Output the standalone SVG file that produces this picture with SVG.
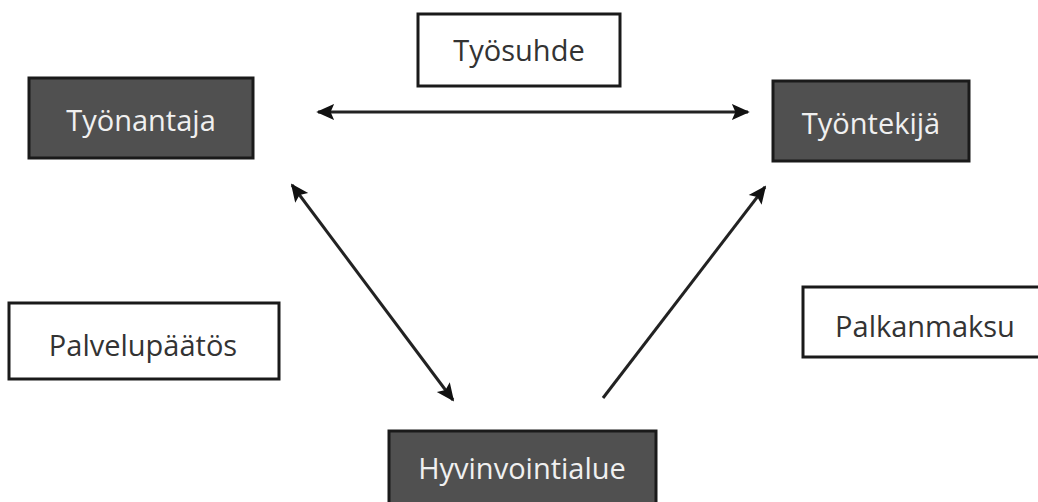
<svg xmlns="http://www.w3.org/2000/svg" width="1038" height="502" viewBox="0 0 1038 502">
<style>
.dark{fill:#505050;stroke:#1a1a1a;stroke-width:3}
.light{fill:#ffffff;stroke:#1a1a1a;stroke-width:3}
.tl{font-family:"Open Sans","Liberation Sans",sans-serif;font-size:29px;fill:#f0f0f0;text-anchor:middle;dominant-baseline:central}
.td{font-family:"Open Sans","Liberation Sans",sans-serif;font-size:29px;fill:#333333;text-anchor:middle;dominant-baseline:central}
.conn{stroke:#222;stroke-width:3;fill:none}
</style>
<defs>
<marker id="ah" viewBox="0 0 10 10" refX="9" refY="5" markerWidth="6" markerHeight="6" orient="auto-start-reverse" markerUnits="strokeWidth">
<path d="M0,0.5 L10,5 L0,9.5 L2,5 z" fill="#111"/>
</marker>
</defs>
<rect width="1038" height="502" fill="#ffffff"/>
<g id="connectors">
<line class="conn" x1="318" y1="112" x2="748" y2="112" marker-start="url(#ah)" marker-end="url(#ah)"/>
<line class="conn" x1="292" y1="185" x2="453" y2="400" marker-start="url(#ah)" marker-end="url(#ah)"/>
<line class="conn" x1="603" y1="398" x2="765" y2="187" marker-end="url(#ah)"/>
</g>
<g id="tyonantaja">
<rect class="dark" x="29" y="78" width="224" height="80"/>
<text class="tl" x="141" y="119">Työnantaja</text>
</g>
<g id="tyontekija">
<rect class="dark" x="773" y="81" width="196" height="80"/>
<text class="tl" x="871" y="122">Työntekijä</text>
</g>
<g id="hyvinvointialue">
<rect class="dark" x="389" y="431" width="267" height="75"/>
<text class="tl" x="522" y="467">Hyvinvointialue</text>
</g>
<g id="tyosuhde">
<rect class="light" x="418" y="14" width="202" height="72"/>
<text class="td" x="519" y="49">Työsuhde</text>
</g>
<g id="palvelupaatos">
<rect class="light" x="9" y="303" width="270" height="76"/>
<text class="td" x="143" y="344">Palvelupäätös</text>
</g>
<g id="palkanmaksu">
<rect class="light" x="803" y="287" width="240" height="70"/>
<text class="td" x="925" y="325">Palkanmaksu</text>
</g>
</svg>
